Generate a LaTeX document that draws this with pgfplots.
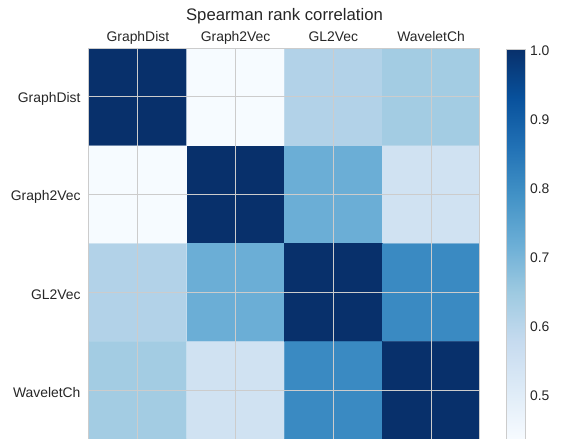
\documentclass[border=0pt]{standalone}
\usepackage{fontspec}
\setmainfont{Liberation Sans}
\usepackage{pgfplots}
\pgfplotsset{compat=1.18}
\definecolor{txt}{RGB}{38,38,38}
\definecolor{gridc}{RGB}{204,204,204}
\begin{document}
\begin{tikzpicture}
\path[use as bounding box] (-89bp,0bp) rectangle (474bp,439bp);
\begin{axis}[
  at={(0bp,0bp)}, anchor=south west,
  width=391bp, height=391bp, scale only axis,
  xmin=-0.5, xmax=3.5, ymin=-0.5, ymax=3.5,
  y dir=reverse,
  enlargelimits=false,
  axis on top,
  xtick={0,1,2,3}, ytick={0,1,2,3},
  xticklabels={GraphDist,Graph2Vec,GL2Vec,WaveletCh},
  yticklabels={GraphDist,Graph2Vec,GL2Vec,WaveletCh},
  xticklabel pos=upper,
  major tick length=0pt,
  grid=major,
  major grid style={gridc, line width=1bp},
  axis line style={gridc, line width=1bp},
  ticklabel style={font=\fontsize{13.9bp}{16bp}\selectfont, text=txt},
  xticklabel style={anchor=base, yshift=7bp},
  yticklabel style={xshift=-5bp, yshift=-2.5bp},
  title={Spearman rank correlation},
  title style={font=\fontsize{16.7bp}{19bp}\selectfont, text=txt, at={(0.5,1)}, anchor=base, yshift=22bp},
  colormap={blues}{rgb255=(247,251,255) rgb255=(222,235,247) rgb255=(198,219,239) rgb255=(158,202,225) rgb255=(107,174,214) rgb255=(66,146,198) rgb255=(33,113,181) rgb255=(8,81,156) rgb255=(8,48,107)},
  point meta min=0.435, point meta max=1.0,
  colorbar,
  colorbar/width=19bp,
  colorbar style={
    scale only axis,
    at={(parent axis.north east)}, anchor=north west,
    xshift=18bp, yshift=-1bp,
    width=19bp, height=390bp,
    ytick={0.5,0.6,0.7,0.8,0.9,1.0},
    major tick length=0pt,
    axis line style={gridc, line width=0.8bp},
    yticklabel style={font=\fontsize{13.9bp}{16bp}\selectfont, text=txt, xshift=1bp, yshift=-2bp,
      /pgf/number format/fixed, /pgf/number format/fixed zerofill,
      /pgf/number format/precision=1, /pgf/number format/assume math mode=true},
  },
]
\addplot[matrix plot*, mesh/cols=4, point meta=explicit] table[meta=c] {
x y c
0 0 1.000
1 0 0.437
2 0 0.612
3 0 0.638
0 1 0.437
1 1 1.000
2 1 0.7175
3 1 0.547
0 2 0.612
1 2 0.7175
2 2 1.000
3 2 0.805
0 3 0.638
1 3 0.547
2 3 0.805
3 3 1.000
};
\end{axis}
\end{tikzpicture}
\end{document}
